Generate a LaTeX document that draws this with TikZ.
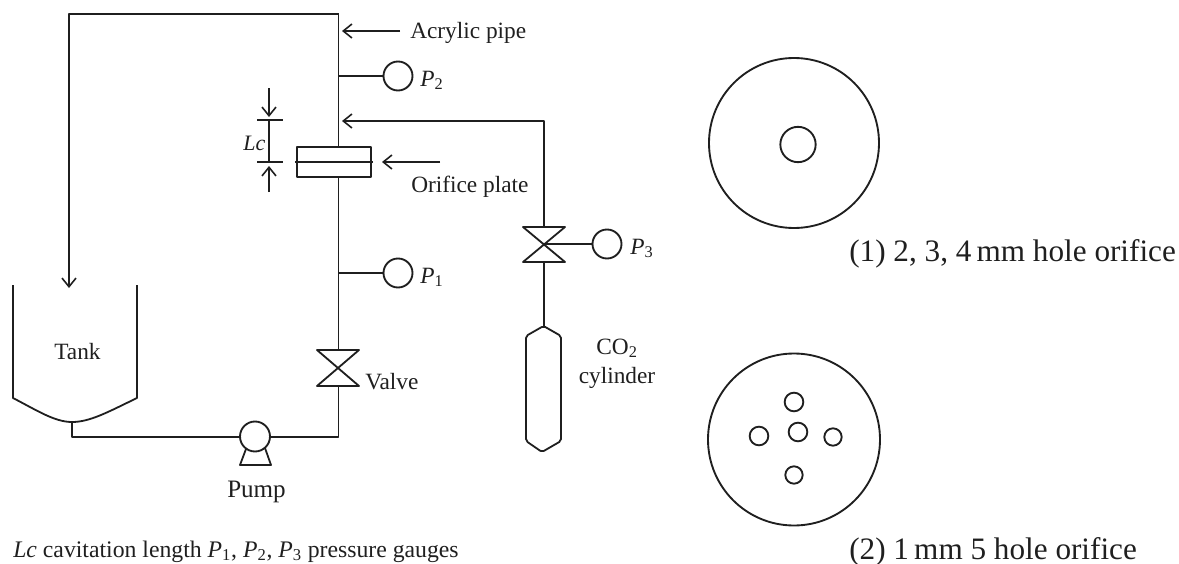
\documentclass[tikz,border=0pt]{standalone}
\usepackage{fontspec}
\setmainfont{Liberation Serif}
\usetikzlibrary{arrows.meta}
\tikzset{
  px/.style={x=0.75pt,y=-0.75pt},
  ln/.style={line width=1.35pt,line join=round,black!88},
  arr/.style={ln,-{Straight Barb[length=6.5pt,width=10.5pt,line width=1.2pt]}},
  hole/.style={circle,draw,line width=1.4pt,black!88,inner sep=0pt,outer sep=0pt},
  gauge/.style={hole,minimum size=21.75pt},
  lab/.style={inner sep=0pt,anchor=base west,text=black!88,font=\fontsize{17.5}{20}\selectfont},
  biglab/.style={inner sep=0pt,anchor=base west,text=black!88,font=\fontsize{23.4}{28}\selectfont}
}
\newcommand{\gs}[1]{\textit{P}\textsubscript{#1}}
\begin{document}
\begin{tikzpicture}[px]
\useasboundingbox (0,0) rectangle (1179,564);
% nodes
\node[gauge] (g2) at (398,76) {};
\node[gauge] (g1) at (398,273) {};
\node[gauge] (g3) at (607,244) {};
\node[gauge,minimum size=22.5pt] (pump) at (255,436.5) {};
\node[draw,ln,minimum width=55.5pt,minimum height=22.5pt,inner sep=0pt,outer sep=0pt] (plate) at (334,162) {};
\coordinate (tl) at (69,14);
\coordinate (tr) at (338.5,14);
\coordinate (tankin) at (69,288);
\coordinate (g2j) at (338.5,76);
\coordinate (co2c) at (544,121);
\coordinate (g1j) at (338.5,273);
\coordinate (v1t) at (338.5,350);
\coordinate (v1b) at (338.5,386);
\coordinate (br) at (338.5,437);
\coordinate (tb) at (72,422);
\coordinate (tbb) at (72,437);
\coordinate (v3t) at (544,227);
\coordinate (v3c) at (544,244);
\coordinate (v3b) at (544,262);
\coordinate (cylt) at (544,326);
\coordinate (apj) at (342,31);
\coordinate (apt) at (400,31);
\coordinate (co2j) at (342,121);
% pipes
\draw[ln] (tr) -- (338.5,147);
\draw[ln] (338.5,177) -- (v1t);
\draw[arr] (tr) -- (tl) -- (tankin);
\draw[ln] (v1b) -- (br) -- (pump.east |- br);
\draw[ln] (pump.west |- tbb) -- (tbb) -- (tb);
\draw[ln] (g2j) -- (g2.west);
\draw[ln] (g1j) -- (g1.west);
\draw[arr] (v3t) -- (co2c) -- (co2j);
\draw[ln] (v3c) -- (g3.west);
\draw[ln] (v3b) -- (cylt);
\draw[arr] (apt) -- (apj);
% plate
\draw[ln] (295,162) -- (373,162);
\coordinate (op) at (440,162);
\coordinate (opt) at (382,162);
\draw[arr] (op) -- (opt);
% Lc
\draw[ln] (257,120) -- (283,120);
\draw[ln] (257,162) -- (283,162);
\draw[ln] (269,120) -- (269,162);
\draw[arr] (269,88) -- (269,117);
\draw[arr] (269,192) -- (269,166);
% valves
\draw[ln] (317,350) -- (359,350) -- (317,386) -- (359,386) -- cycle;
\draw[ln] (523,227) -- (565,227) -- (523,262) -- (565,262) -- cycle;
% pump base
\draw[ln] (246,449) -- (240,465) -- (271,465) -- (265,448);
% tank
\draw[ln] (13,285) -- (13,398) .. controls (38,411) and (55,422) .. (72,422) .. controls (90,422) and (108,412) .. (137,398) -- (137,285);
% cylinder
\draw[ln,rounded corners=1.5pt] (543.5,326) -- (561,336) -- (561,441) -- (542,452) -- (526,441) -- (526,336) -- cycle;
% orifice discs
\node[hole,minimum size=127.5pt] (d1) at (794,143) {};
\node[hole,minimum size=26.5pt] (h1) at (798,144.5) {};
\node[hole,minimum size=129pt] (d2) at (794,439.5) {};
\node[hole,minimum size=14pt] (h2) at (794,402) {};
\node[hole,minimum size=14pt] (h3) at (759,436) {};
\node[hole,minimum size=14pt] (h4) at (798,432) {};
\node[hole,minimum size=13pt] (h5) at (833,437) {};
\node[hole,minimum size=13pt] (h6) at (794,475) {};
% labels
\node[lab] (t1) at (410,38) {Acrylic pipe};
\node[lab] (t2) at (420,86) {\gs{2}};
\node[lab] (t3) at (420,283) {\gs{1}};
\node[lab] (t4) at (630,254) {\gs{3}};
\node[lab] (t5) at (411,192) {Orifice plate};
\node[lab,font=\fontsize{16.5}{20}\selectfont] (t6) at (243,150) {\textit{Lc}};
\node[lab] (t7) at (54,359) {Tank};
\node[lab] (t8) at (365,389) {Valve};
\node[lab,font=\fontsize{18.8}{20}\selectfont] (t9) at (227,497) {Pump};
\node[lab,anchor=base] (t10a) at (617,354) {CO\textsubscript{2}};
\node[lab,anchor=base] (t10b) at (617,383) {cylinder};
\node[lab,font=\fontsize{17.8}{20}\selectfont] (t11) at (13,557) {\textit{Lc} cavitation length \gs{1}, \gs{2}, \gs{3} pressure gauges};
\node[biglab] (t12) at (849,261) {(1) 2, 3, 4\,mm hole orifice};
\node[biglab] (t13) at (849,559) {(2) 1\,mm 5 hole orifice};
\end{tikzpicture}
\end{document}
